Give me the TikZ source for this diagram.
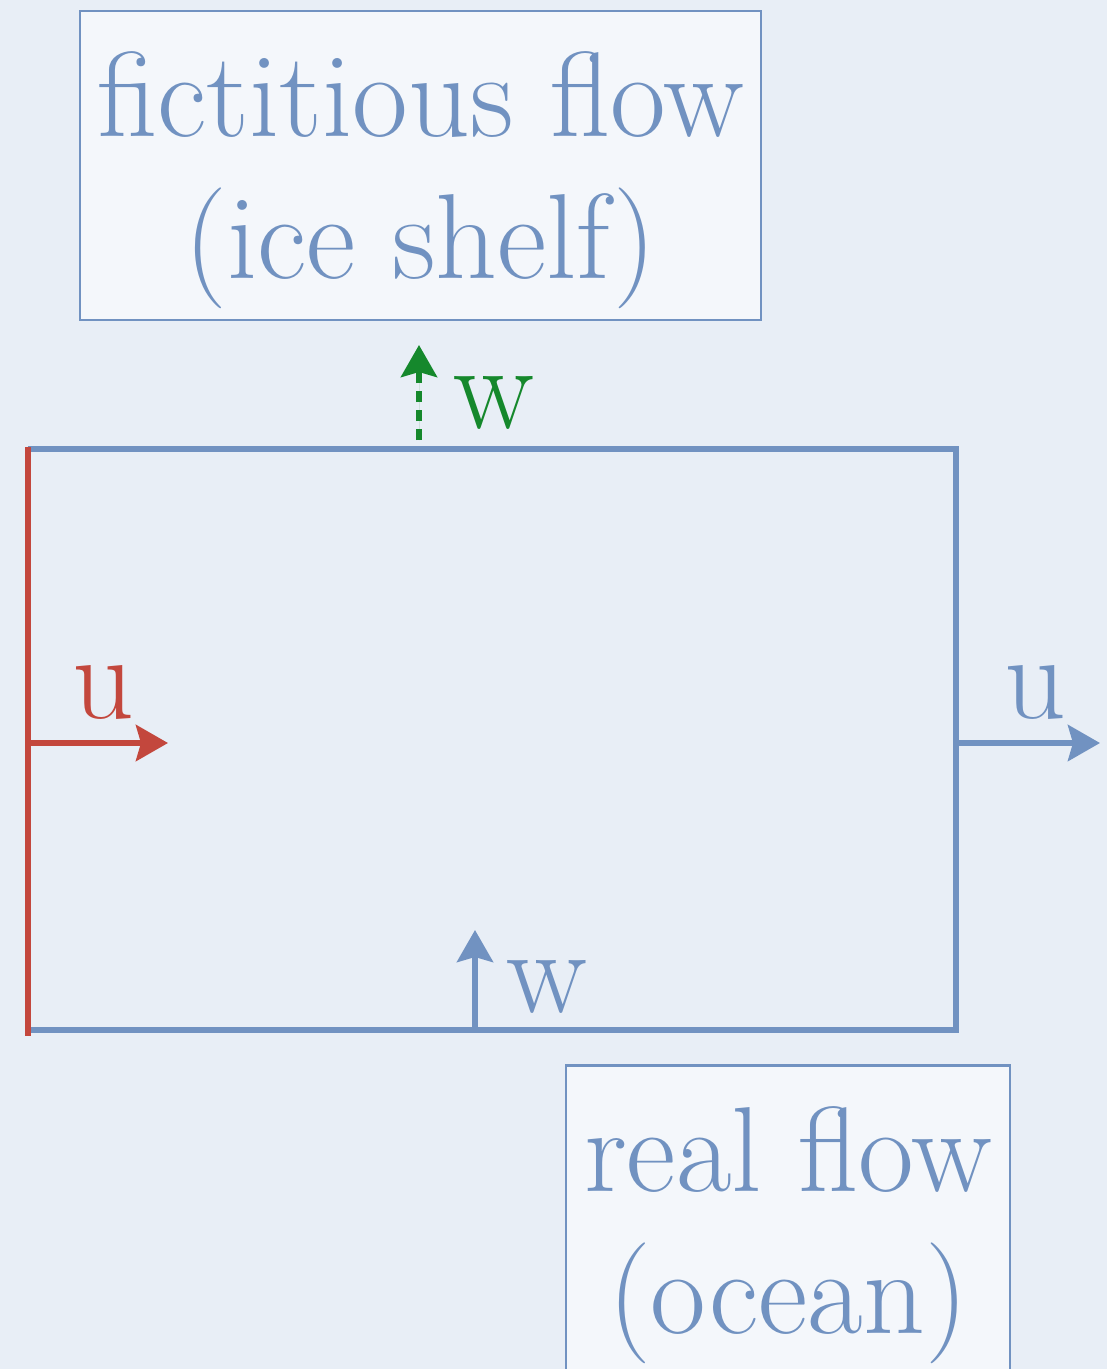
\documentclass[tikz,border=0pt]{standalone}
\usepackage{fontspec}
\usepackage{tikz}
\usetikzlibrary{arrows.meta,positioning,calc}
\definecolor{FlowBlue}{HTML}{7192C1}
\definecolor{FlowRed}{HTML}{C3473D}
\definecolor{FlowGreen}{HTML}{15882C}
\definecolor{FlowPaper}{HTML}{E8EEF6}
\definecolor{FlowBox}{HTML}{F4F7FB}

\begin{document}
\begin{tikzpicture}[
    x=1pt,y=-1pt,
    flowfont/.style={font=\fontsize{121}{142}\selectfont},
    box/.style={draw=FlowBlue,line width=2.5pt,fill=FlowBox,inner sep=0pt},
    boxtext/.style={flowfont,text=FlowBlue,align=center,inner sep=0pt},
    wall/.style={draw=FlowBlue,line width=6pt},
    inflow/.style={draw=FlowRed,line width=6pt},
    arrow/.style={-{Stealth[length=32pt,width=36pt,inset=5pt]},line width=6pt},
    lab/.style={flowfont,anchor=base,inner sep=0pt}
  ]
    \useasboundingbox (0,0) rectangle (1107,1369);
    \fill[FlowPaper] (0,0) rectangle (1107,1369);
    % boxes
    \node[box,minimum width=681pt,minimum height=309pt] (shelf) at (420.5,165.5) {};
    \node[boxtext] (shelftext) at (420.5,180) {fictitious flow\\(ice shelf)};
    \node[box,minimum width=444pt,minimum height=340pt,anchor=north] (ocean) at (788,1064) {};
    \node[boxtext] (oceantext) at (788,1235) {real flow\\(ocean)};
    % cavity walls
    \coordinate (nw) at (28,449);
    \coordinate (ne) at (956,449);
    \coordinate (se) at (956,1030);
    \coordinate (sw) at (28,1030);
    \draw[wall] (nw) -- (ne) -- (se) -- (sw);
    \draw[inflow] ([yshift=2pt]nw) -- ([yshift=-6pt]sw);
    % velocities
    \coordinate (inlet) at (28,743);
    \coordinate (inletTip) at (168,743);
    \coordinate (outlet) at (956,743);
    \coordinate (outletTip) at (1100,743);
    \coordinate (bottom) at (475,1027);
    \coordinate (bottomTip) at (475,930);
    \coordinate (top) at (419,440);
    \coordinate (topTip) at (419,345);
    \draw[arrow,draw=FlowRed,fill=FlowRed] (inlet) -- (inletTip);
    \draw[arrow,draw=FlowBlue,fill=FlowBlue] (outlet) -- (outletTip);
    \draw[arrow,draw=FlowBlue,fill=FlowBlue] (bottom) -- (bottomTip);
    \draw[arrow,draw=FlowGreen,fill=FlowGreen,dash pattern=on 11pt off 8pt] (top) -- (topTip);
    \node[lab,text=FlowRed] (uin) at (103,718) {u};
    \node[lab,text=FlowBlue] (uout) at (1035,718) {u};
    \node[lab,text=FlowBlue] (wbot) at (547,1012) {w};
    \node[lab,text=FlowGreen] (wtop) at (494,428) {w};
\end{tikzpicture}
\end{document}
